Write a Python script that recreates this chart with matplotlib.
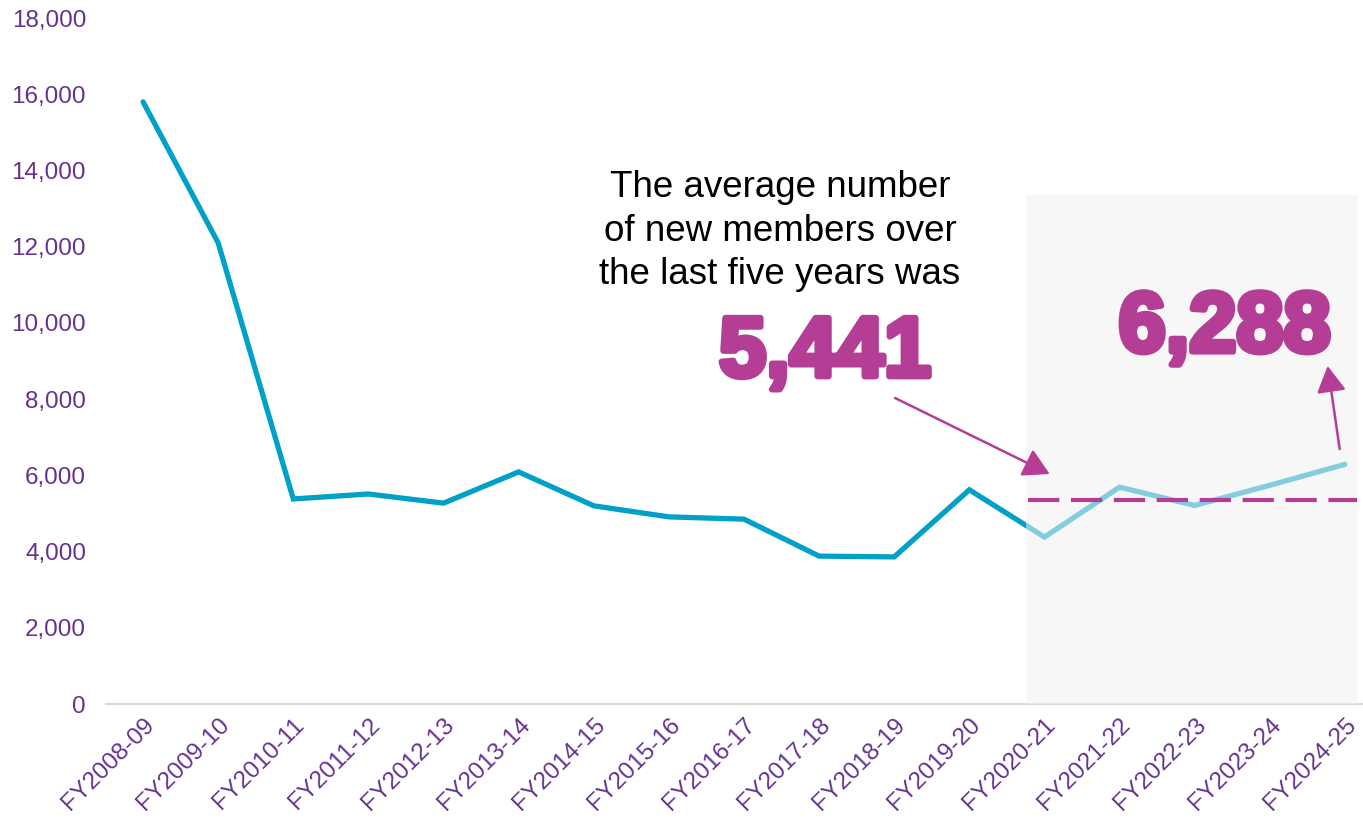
import matplotlib.pyplot as plt
import matplotlib.patheffects as pe
from matplotlib.patches import Rectangle
from matplotlib.ticker import FuncFormatter

years = ['FY2008-09', 'FY2009-10', 'FY2010-11', 'FY2011-12', 'FY2012-13',
         'FY2013-14', 'FY2014-15', 'FY2015-16', 'FY2016-17', 'FY2017-18',
         'FY2018-19', 'FY2019-20', 'FY2020-21', 'FY2021-22', 'FY2022-23',
         'FY2023-24', 'FY2024-25']
new_members = [15800, 12100, 5380, 5510, 5270, 6090, 5200, 4910, 4850,
               3880, 3860, 5620, 4380, 5690, 5210, 5740, 6288]
avg_label = '5,441'
last_label = '6,288'
avg_line = 5340

blue = '#00A0C8'
purple = '#643292'
magenta = '#B43E96'

plt.rcParams['font.family'] = ['Liberation Sans', 'DejaVu Sans']

fig = plt.figure(figsize=(13.63, 8.21), dpi=100)
ax = fig.add_axes([105.5 / 1363, 117 / 821, 1277 / 1363, 686 / 821])

x = list(range(len(years)))
ax.plot(x, new_members, color=blue, lw=3.8, solid_joinstyle='miter',
        solid_capstyle='round', zorder=2)

# shaded "last five years" box, drawn over the line so it lightens it
ax.add_patch(Rectangle((11.75, 0), 4.42, 13350, facecolor='#F2F2F2',
                       alpha=0.55, edgecolor='none', zorder=3))

ax.plot([11.78, 16.16], [avg_line, avg_line], color=magenta, lw=3,
        dashes=(7.5, 2.8), zorder=4)

ax.set_xlim(-0.5, 16.5)
ax.set_ylim(0, 18000)
ax.set_yticks(range(0, 18001, 2000))
ax.yaxis.set_major_formatter(FuncFormatter(lambda v, p: f'{int(v):,}'))
ax.set_xticks(x)
ax.set_xticklabels(years, rotation=45, ha='right', rotation_mode='anchor')
ax.tick_params(axis='both', length=0, colors=purple, labelsize=17.5)
ax.tick_params(axis='y', pad=14)
ax.tick_params(axis='x', pad=7)

for s in ['top', 'right', 'left']:
    ax.spines[s].set_visible(False)
ax.spines['bottom'].set_color('#D9D9D9')
ax.spines['bottom'].set_linewidth(1.5)

ax.text(8.48, 14000, 'The average number\nof new members over\nthe last five years was',
        ha='center', va='top', fontsize=26.5, color='black', linespacing=1.3,
        zorder=5)
heavy = [pe.withStroke(linewidth=4.5, foreground=magenta)]
ax.text(9.08, 8600, avg_label, ha='center', va='baseline', fontsize=61,
        fontweight='bold', color=magenta, zorder=5, path_effects=heavy)
ax.text(14.4, 9250, last_label, ha='center', va='baseline', fontsize=61,
        fontweight='bold', color=magenta, zorder=5, path_effects=heavy)

arrow = dict(arrowstyle='-|>,head_length=0.8,head_width=0.45', lw=1.8,
             color=magenta, shrinkA=0, shrinkB=0, mutation_scale=20)
ax.annotate('', xy=(12.07, 6035), xytext=(10.01, 8030), arrowprops=arrow,
            zorder=5)
ax.annotate('', xy=(15.77, 8870), xytext=(15.93, 6690), arrowprops=arrow,
            zorder=5)

plt.savefig('out.png', dpi=100)
